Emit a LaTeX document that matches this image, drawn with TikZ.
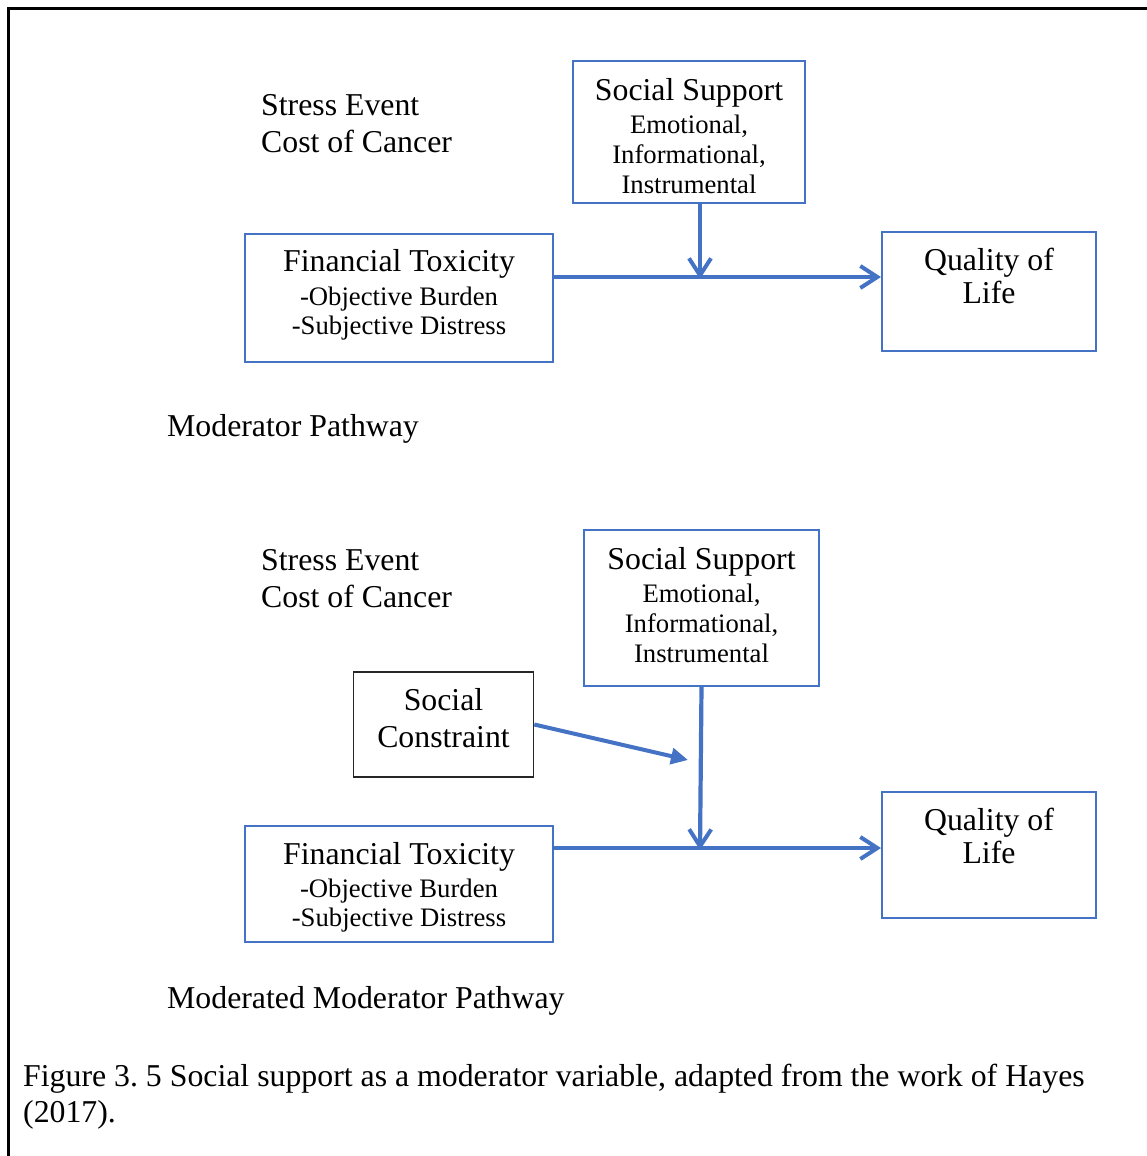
\documentclass[tikz,border=0pt]{standalone}
\usepackage{fontspec}
\setmainfont{Liberation Serif}
\usetikzlibrary{arrows.meta}
\definecolor{pathblue}{HTML}{4472C4}
\frenchspacing
\begin{document}
\begin{tikzpicture}[x=1pt,y=-1pt,
  bigtext/.style={inner sep=0pt,font=\fontsize{31.8}{36}\selectfont},
  smalltext/.style={inner sep=0pt,font=\fontsize{26.7}{30}\selectfont},
  bluebox/.style={draw=pathblue,line width=2pt,inner sep=0pt,minimum width=#1},
  blackbox/.style={draw=black!85,line width=1.6pt,inner sep=0pt},
  mainarrow/.style={draw=pathblue,line width=4.2pt,
    -{Straight Barb[length=17pt,width=22pt,line width=4pt]}},
  triarrow/.style={draw=pathblue,line width=4pt,
    -{Triangle[length=17pt,width=16pt]}}]
\useasboundingbox (0,0) rectangle (1146,1156);
% page frame (continues past the right and bottom edges)
\draw[line width=2.8pt] (8.5,1170) -- (8.5,8.5) -- (1170,8.5);

% ---------- Moderator pathway ----------
\node[bigtext,anchor=base west] (se1) at (261,115) {Stress Event};
\node[bigtext,anchor=base west] (cc1) at (261,152.5) {Cost of Cancer};

\node[bluebox=232pt,minimum height=142pt] (ss1) at (689,132) {};
\node[bigtext,anchor=base] (ss1a) at (ss1.center |- 0,100) {Social Support};
\node[smalltext,anchor=base] (ss1b) at (ss1.center |- 0,133) {Emotional,};
\node[smalltext,anchor=base] (ss1c) at (ss1.center |- 0,163) {Informational,};
\node[smalltext,anchor=base] (ss1d) at (ss1.center |- 0,193) {Instrumental};

\node[bluebox=308pt,minimum height=128pt] (ft1) at (399,298) {};
\node[bigtext,anchor=base] (ft1a) at (ft1.center |- 0,271.5) {Financial Toxicity};
\node[smalltext,anchor=base] (ft1b) at (ft1.center |- 0,305) {-Objective Burden};
\node[smalltext,anchor=base] (ft1c) at (ft1.center |- 0,334) {-Subjective Distress};

\node[bluebox=214pt,minimum height=119pt] (ql1) at (989,291.5) {};
\node[bigtext,anchor=base] (ql1a) at (ql1.center |- 0,270) {Quality of};
\node[bigtext,anchor=base] (ql1b) at (ql1.center |- 0,303) {Life};

\coordinate (j1) at (700,277);
\draw[mainarrow] (ft1.east |- j1) -- (ql1.west |- j1);
\draw[mainarrow] (j1 |- ss1.south) -- ([yshift=-2pt]j1);

\node[bigtext,anchor=base west] (mp1) at (167,436) {Moderator Pathway};

% ---------- Moderated moderator pathway ----------
\node[bigtext,anchor=base west] (se2) at (261,570) {Stress Event};
\node[bigtext,anchor=base west] (cc2) at (261,607) {Cost of Cancer};

\node[bluebox=235pt,minimum height=156pt] (ss2) at (701.5,608) {};
\node[bigtext,anchor=base] (ss2a) at (ss2.center |- 0,569) {Social Support};
\node[smalltext,anchor=base] (ss2b) at (ss2.center |- 0,602) {Emotional,};
\node[smalltext,anchor=base] (ss2c) at (ss2.center |- 0,632) {Informational,};
\node[smalltext,anchor=base] (ss2d) at (ss2.center |- 0,662) {Instrumental};

\node[blackbox,minimum width=180pt,minimum height=105pt] (sc) at (443.5,724.5) {};
\node[bigtext,anchor=base] (sca) at (sc.center |- 0,710) {Social};
\node[bigtext,anchor=base] (scb) at (sc.center |- 0,747) {Constraint};

\node[bluebox=308pt,minimum height=116pt] (ft2) at (399,884) {};
\node[bigtext,anchor=base] (ft2a) at (ft2.center |- 0,864) {Financial Toxicity};
\node[smalltext,anchor=base] (ft2b) at (ft2.center |- 0,897) {-Objective Burden};
\node[smalltext,anchor=base] (ft2c) at (ft2.center |- 0,926) {-Subjective Distress};

\node[bluebox=214pt,minimum height=126pt] (ql2) at (989,855) {};
\node[bigtext,anchor=base] (ql2a) at (ql2.center |- 0,830) {Quality of};
\node[bigtext,anchor=base] (ql2b) at (ql2.center |- 0,863) {Life};

\coordinate (j2) at (700,848);
\coordinate (m2) at (688,760);
\draw[mainarrow] (ft2.east |- j2) -- (ql2.west |- j2);
\draw[mainarrow] (ss2.south) -- ([yshift=-2pt]j2);
\draw[triarrow] (sc.east) -- (m2);

\node[bigtext,anchor=base west] (mp2) at (167,1008) {Moderated Moderator Pathway};

% ---------- caption ----------
\node[bigtext,anchor=base west] (cap1) at (23,1086) {Figure 3. 5 Social support as a moderator variable, adapted from the work of Hayes};
\node[bigtext,anchor=base west] (cap2) at (23,1122) {(2017).};
\end{tikzpicture}
\end{document}
